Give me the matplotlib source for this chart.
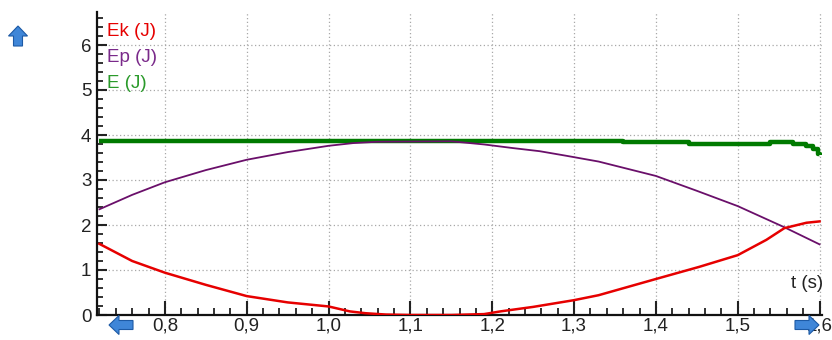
import matplotlib
matplotlib.use("Agg")
import matplotlib.pyplot as plt
from matplotlib.ticker import MultipleLocator, FuncFormatter
from matplotlib.patches import FancyArrow
from matplotlib.transforms import IdentityTransform

plt.rcParams['font.family'] = ['Liberation Sans', 'DejaVu Sans']

# ---- data ----
t_ek = [0.72, 0.76, 0.80, 0.85, 0.90, 0.95, 1.00, 1.026, 1.045, 1.07, 1.10, 1.15, 1.19,
        1.21, 1.25, 1.30, 1.33, 1.40, 1.453, 1.50, 1.535, 1.557, 1.584, 1.60]
ek = [1.58, 1.20, 0.94, 0.67, 0.42, 0.28, 0.19, 0.08, 0.04, 0.01, 0.0, 0.0, 0.02,
      0.08, 0.18, 0.33, 0.44, 0.80, 1.07, 1.33, 1.67, 1.93, 2.05, 2.08]

t_ep = [0.72, 0.76, 0.80, 0.85, 0.90, 0.95, 1.00, 1.03, 1.06, 1.15, 1.19, 1.225,
        1.258, 1.29, 1.33, 1.40, 1.45, 1.50, 1.557, 1.60]
ep = [2.35, 2.67, 2.95, 3.22, 3.45, 3.62, 3.76, 3.82, 3.85, 3.86, 3.79, 3.71,
      3.64, 3.54, 3.41, 3.09, 2.76, 2.42, 1.95, 1.57]

t_e = [0.72, 1.36, 1.44, 1.539, 1.567, 1.583, 1.592, 1.598, 1.60]
e_tot = [3.87, 3.84, 3.80, 3.84, 3.80, 3.76, 3.68, 3.58, 3.55]

x_ticks = [0.8, 0.9, 1.0, 1.1, 1.2, 1.3, 1.4, 1.5, 1.6]
y_ticks = [0, 1, 2, 3, 4, 5, 6]
legend_labels = ["Ek (J)", "Ep (J)", "E (J)"]
x_label = "t (s)"

# ---- figure ----
W, H = 832, 340
fig = plt.figure(figsize=(W / 100, H / 100), dpi=100)
ax = fig.add_axes([97 / W, 1 - 315 / H, (822 - 97) / W, (315 - 12) / H])

c_ek, c_ep, c_e = '#e60000', '#6a0f6a', '#007a00'
ax.plot(t_e, e_tot, color=c_e, lw=3.2, drawstyle='steps-post', zorder=3,
        solid_capstyle='butt')
ax.plot(t_ep, ep, color=c_ep, lw=1.3, zorder=4)
ax.plot(t_ek, ek, color=c_ek, lw=1.8, zorder=4)

ax.set_xlim(0.717, 1.603)
ax.set_ylim(0, 303 / 45)
ax.set_xticks(x_ticks)
ax.set_yticks(y_ticks)
ax.xaxis.set_minor_locator(MultipleLocator(0.02))
ax.yaxis.set_minor_locator(MultipleLocator(0.2))
ax.xaxis.set_major_formatter(FuncFormatter(lambda v, p: f"{v:.1f}".replace('.', ',')))
ax.yaxis.set_major_formatter(FuncFormatter(lambda v, p: f"{v:.0f}"))

for s in ['top', 'right']:
    ax.spines[s].set_visible(False)
for s in ['left', 'bottom']:
    ax.spines[s].set_linewidth(1.6)
    ax.spines[s].set_color('#111111')

fs = 13.5
ax.tick_params(axis='x', which='major', direction='in', length=10, width=1.5,
               labelsize=fs, pad=2, colors='#222222')
ax.tick_params(axis='x', which='minor', direction='in', length=5, width=1.3, colors='#222222')
ax.tick_params(axis='y', which='major', direction='in', length=7.5, width=1.5,
               labelsize=fs, pad=4, colors='#222222')
ax.tick_params(axis='y', which='minor', direction='in', length=4, width=1.3, colors='#222222')

ax.grid(True, which='major', color='#a8a8a8', linestyle=(0, (1, 2)), linewidth=0.9)
ax.set_axisbelow(True)

# legend-like labels
leg_colors = [c_ek, '#7a2a8a', '#2a9a2a']
leg_y = [31, 57, 83]
for lab, col, yy in zip(legend_labels, leg_colors, leg_y):
    fig.text(107 / W, 1 - yy / H, lab, color=col, fontsize=fs, va='center', ha='left')

fig.text(823 / W, 1 - 284 / H, x_label, fontsize=fs, ha='right', va='center', color='#222222')

# blue navigation arrows (pixel coords)
def arrow(x0, y0, dx, dy):
    a = FancyArrow(x0, H - y0, dx, -dy, width=9, head_width=19, head_length=10,
                   length_includes_head=True, transform=IdentityTransform(),
                   facecolor='#3f86d8', edgecolor='#1d5aa5', lw=0.8, zorder=10)
    fig.add_artist(a)

arrow(18, 46, 0, -20)
arrow(133, 325, -24, 0)
arrow(795, 325, 24, 0)

fig.savefig('out.png', dpi=100)
